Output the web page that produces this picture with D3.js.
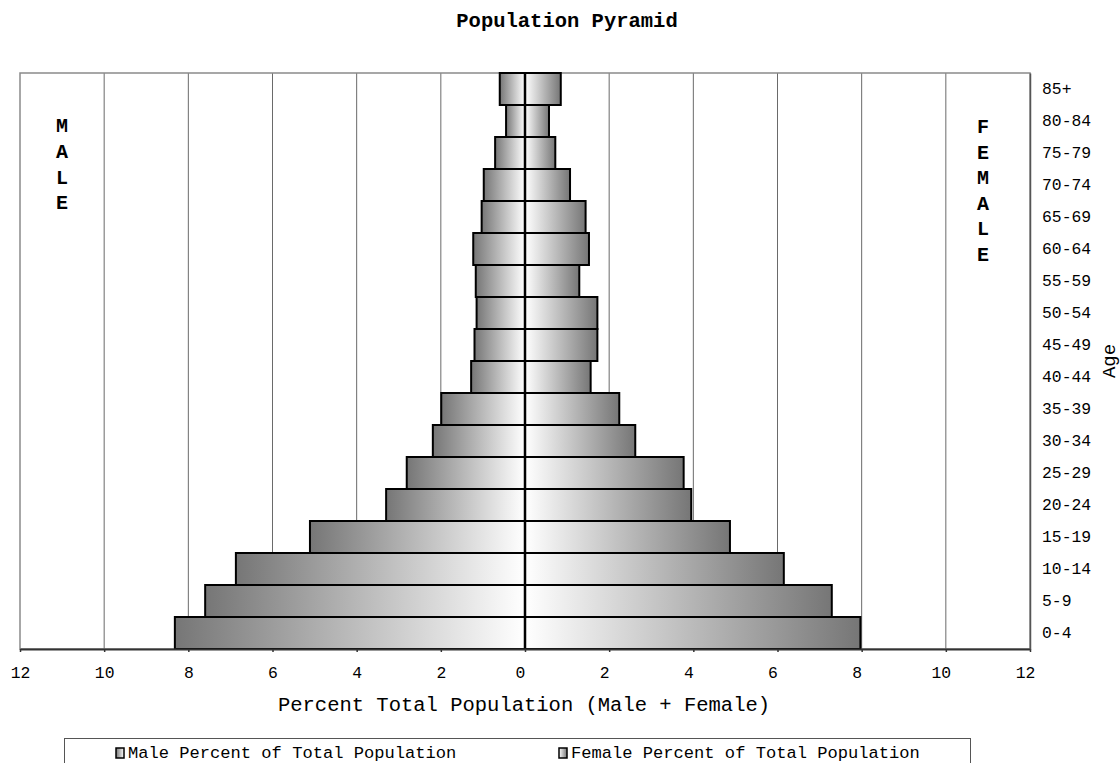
<!DOCTYPE html>
<html>
<head>
<meta charset="utf-8">
<script src="https://cdn.jsdelivr.net/npm/d3@7"></script>
<style>
  body { margin: 0; background: #fff; }
  text { font-family: "Liberation Mono", "Courier New", monospace; fill: #000; }
</style>
</head>
<body>
<div id="chart"></div>
<script>
// data (percent of total population)
var ages = ["0-4","5-9","10-14","15-19","20-24","25-29","30-34","35-39","40-44",
            "45-49","50-54","55-59","60-64","65-69","70-74","75-79","80-84","85+"];
var male = [8.32, 7.60, 6.87, 5.11, 3.30, 2.81, 2.19, 1.99, 1.28,
            1.20, 1.15, 1.17, 1.23, 1.03, 0.98, 0.71, 0.45, 0.60];
var female = [7.97, 7.29, 6.15, 4.87, 3.95, 3.77, 2.62, 2.24, 1.56,
              1.72, 1.72, 1.29, 1.52, 1.44, 1.07, 0.72, 0.57, 0.85];
var xTicks = [-12,-10,-8,-6,-4,-2,0,2,4,6,8,10,12];
var maleLetters = ["M","A","L","E"];
var femaleLetters = ["F","E","M","A","L","E"];
var legendLabels = ["Male Percent of Total Population","Female Percent of Total Population"];

var data = ages.map(function(a,i){ return {age:a, male:male[i], female:female[i]}; });

// plot area
var margin = {top: 73, right: 90, bottom: 114, left: 20},
    width = 1120 - margin.left - margin.right,
    height = 763 - margin.top - margin.bottom;

var svg = d3.select("#chart")
    .append("svg")
    .attr("width", 1120)
    .attr("height", 763);

var defs = svg.append("defs");
function grad(id, from, to){
    var g = defs.append("linearGradient").attr("id", id)
        .attr("x1","0").attr("y1","0").attr("x2","1").attr("y2","0");
    g.append("stop").attr("offset","0").attr("stop-color", from);
    g.append("stop").attr("offset","1").attr("stop-color", to);
}
grad("gMale", "#767676", "#ffffff");
grad("gFemale", "#ffffff", "#767676");

var g = svg.append("g")
    .attr("transform","translate(" + margin.left + "," + margin.top + ")");

var x = d3.scaleLinear()
    .domain([-12, 12])
    .range([0, width]);

var y = d3.scaleBand()
    .domain(ages.slice().reverse())
    .range([0, height])
    .padding(0);

// gridlines
g.selectAll(".grid")
    .data(xTicks.filter(function(d){ return Math.abs(d) != 12 && d != 0; }))
    .enter().append("line")
    .attr("x1", function(d){ return x(d); })
    .attr("x2", function(d){ return x(d); })
    .attr("y1", 0)
    .attr("y2", height)
    .style("stroke", "#6a6a6a")
    .style("stroke-width", "1px");

// frame
g.append("rect")
    .attr("x", 0).attr("y", 0)
    .attr("width", width).attr("height", height)
    .style("fill", "none")
    .style("stroke", "#8a8a8a")
    .style("stroke-width", "1.5px");

// male bars
g.selectAll(".male")
    .data(data)
    .enter().append("rect")
    .attr("class", "male")
    .attr("x", function(d){ return x(-d.male); })
    .attr("y", function(d){ return y(d.age); })
    .attr("width", function(d){ return x(0) - x(-d.male); })
    .attr("height", y.bandwidth())
    .style("fill", "url(#gMale)")
    .style("stroke", "#000")
    .style("stroke-width", "2px");

// female bars
g.selectAll(".female")
    .data(data)
    .enter().append("rect")
    .attr("class", "female")
    .attr("x", x(0))
    .attr("y", function(d){ return y(d.age); })
    .attr("width", function(d){ return x(d.female) - x(0); })
    .attr("height", y.bandwidth())
    .style("fill", "url(#gFemale)")
    .style("stroke", "#000")
    .style("stroke-width", "2px");

// zero line
g.append("line")
    .attr("x1", x(0)).attr("x2", x(0))
    .attr("y1", 0).attr("y2", height)
    .style("stroke", "#000")
    .style("stroke-width", "2.5px");

// x axis
var xAxis = g.append("g")
    .attr("transform", "translate(0," + height + ")")
    .call(d3.axisBottom(x).tickValues(xTicks)
        .tickFormat(function(d){ return Math.abs(d); })
        .tickSize(3).tickSizeOuter(0).tickPadding(14));
xAxis.select(".domain").style("stroke", "#333").style("stroke-width", "2px");
xAxis.selectAll(".tick line").style("stroke", "#333").style("stroke-width", "1.5px");
xAxis.selectAll("text")
    .attr("dx", function(d){ return d >= 0 ? -5 : 0; })
    .style("font-size", "16.4px")
    .style("font-family", '"Liberation Mono", monospace');

// y axis on the right
var yAxis = g.append("g")
    .attr("transform", "translate(" + width + ",0)")
    .call(d3.axisRight(y).tickSize(0).tickSizeOuter(0).tickPadding(12));
yAxis.select(".domain").style("stroke", "#555").style("stroke-width", "1.5px");
yAxis.selectAll("text")
    .style("font-size", "16.4px")
    .style("font-family", '"Liberation Mono", monospace');

// titles
svg.append("text")
    .attr("x", 567).attr("y", 27)
    .attr("text-anchor", "middle")
    .style("font-size", "20.5px")
    .style("font-weight", "bold")
    .text("Population Pyramid");

svg.append("text")
    .attr("x", 524).attr("y", 711)
    .attr("text-anchor", "middle")
    .style("font-size", "20.5px")
    .text("Percent Total Population (Male + Female)");

svg.append("text")
    .attr("transform", "translate(1115,361) rotate(-90)")
    .attr("text-anchor", "middle")
    .style("font-size", "19px")
    .text("Age");

// MALE / FEMALE vertical letters
svg.selectAll(".ml")
    .data(maleLetters)
    .enter().append("text")
    .attr("x", 62)
    .attr("y", function(d,i){ return 132 + i * 25.8; })
    .attr("text-anchor", "middle")
    .style("font-size", "20px")
    .style("font-weight", "bold")
    .text(function(d){ return d; });

svg.selectAll(".fl")
    .data(femaleLetters)
    .enter().append("text")
    .attr("x", 983)
    .attr("y", function(d,i){ return 133 + i * 25.6; })
    .attr("text-anchor", "middle")
    .style("font-size", "20px")
    .style("font-weight", "bold")
    .text(function(d){ return d; });

// legend
svg.append("rect")
    .attr("x", 64.5).attr("y", 738.5)
    .attr("width", 906).attr("height", 40)
    .style("fill", "#fff")
    .style("stroke", "#555")
    .style("stroke-width", "1px");

var legX = [116, 559];
var leg = svg.selectAll(".leg")
    .data(legendLabels)
    .enter().append("g")
    .attr("transform", function(d,i){ return "translate(" + legX[i] + ",748)"; });
leg.append("rect")
    .attr("width", 8).attr("height", 10)
    .style("fill", function(d,i){ return i == 0 ? "url(#gMale)" : "url(#gFemale)"; })
    .style("stroke", "#000")
    .style("stroke-width", "1.5px");
leg.append("text")
    .attr("x", 12).attr("y", 10)
    .style("font-size", "17.1px")
    .text(function(d){ return d; });
</script>
</body>
</html>
